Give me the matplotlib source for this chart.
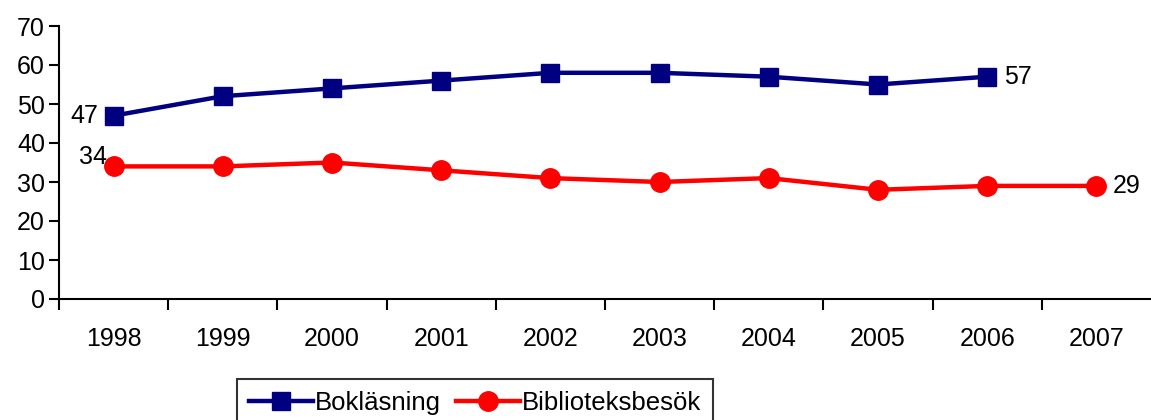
import numpy as np
import matplotlib.pyplot as plt

years = ["1998", "1999", "2000", "2001", "2002", "2003", "2004", "2005", "2006", "2007"]
boklasning = [47, 52, 54, 56, 58, 58, 57, 55, 57]
biblioteksbesok = [34, 34, 35, 33, 31, 30, 31, 28, 29, 29]

plt.rcParams["font.family"] = ["Liberation Sans", "DejaVu Sans"]
FS = 18

fig = plt.figure(figsize=(11.51, 4.2), dpi=100)
ax = fig.add_axes([59 / 1151, 1 - 299 / 420, 1 - 59 / 1151, (299 - 26) / 420])

x_blue = np.arange(len(boklasning))
x_red = np.arange(len(biblioteksbesok))

ax.plot(x_blue, boklasning, color="#000080", linewidth=3.2, marker="s",
        markersize=13, label="Bokläsning", clip_on=False)
ax.plot(x_red, biblioteksbesok, color="#FF0000", linewidth=3.2, marker="o",
        markersize=14, label="Biblioteksbesök", clip_on=False)

# data labels at the ends
ax.annotate(str(boklasning[0]), (x_blue[0], boklasning[0]), xytext=(-11, 0),
            textcoords="offset points", ha="right", va="center", fontsize=FS)
ax.annotate(str(boklasning[-1]), (x_blue[-1], boklasning[-1]), xytext=(12, 0),
            textcoords="offset points", ha="left", va="center", fontsize=FS)
ax.annotate(str(biblioteksbesok[0]), (x_red[0], biblioteksbesok[0]), xytext=(-5, -2),
            textcoords="offset points", ha="right", va="bottom", fontsize=FS)
ax.annotate(str(biblioteksbesok[-1]), (x_red[-1], biblioteksbesok[-1]), xytext=(12, 0),
            textcoords="offset points", ha="left", va="center", fontsize=FS)

ax.set_xlim(-0.5, len(years) - 0.5)
ax.set_ylim(0, 70)
ax.set_yticks(range(0, 71, 10))

# category labels centered, tick marks between categories
ax.set_xticks(np.arange(len(years)))
ax.set_xticklabels(years)
ax.set_xticks(np.arange(len(years)) - 0.5, minor=True)
ax.tick_params(axis="x", which="major", length=0, pad=20, labelsize=FS)
ax.tick_params(axis="x", which="minor", length=8, width=1.5, direction="out")
ax.tick_params(axis="y", length=7, width=1.5, direction="out", labelsize=FS, pad=3)

for side in ["top", "right"]:
    ax.spines[side].set_visible(False)
for side in ["left", "bottom"]:
    ax.spines[side].set_linewidth(1.5)

leg = fig.legend(loc="upper left", bbox_to_anchor=(237 / 1151, 1 - 379 / 420),
                 ncol=2, frameon=True, fancybox=False, edgecolor="black",
                 fontsize=18.5, handlelength=2.5, handletextpad=0.1,
                 columnspacing=0.55, borderpad=0.45, borderaxespad=0)
leg.get_frame().set_linewidth(1.5)

fig.savefig("out.png", dpi=100)
